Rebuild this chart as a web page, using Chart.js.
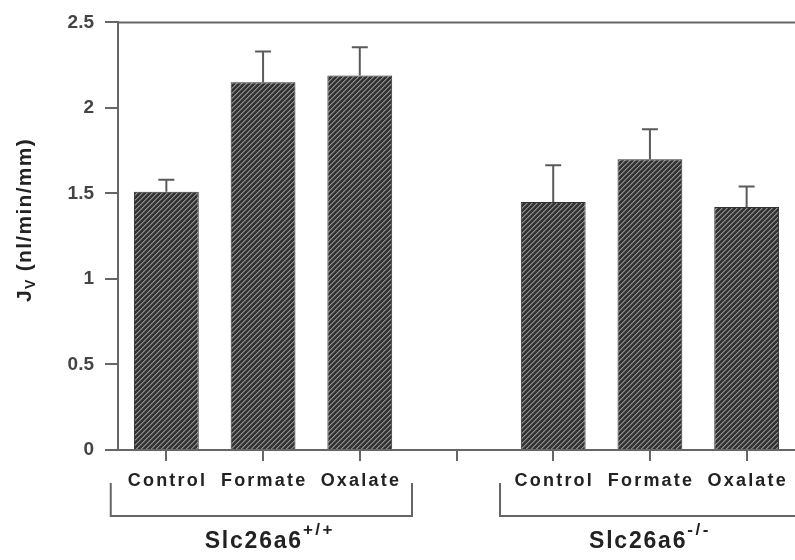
<!DOCTYPE html>
<html>
<head>
<meta charset="utf-8">
<script src="https://cdn.jsdelivr.net/npm/chart.js@4/dist/chart.umd.min.js"></script>
<style>
  html, body { margin: 0; padding: 0; background: #fff; }
  #wrap { width: 795px; height: 560px; }
</style>
</head>
<body>
<div id="wrap"><canvas id="c" width="795" height="560"></canvas></div>
<script>
// ---- data ----
const categories = ['Control', 'Formate', 'Oxalate', '', 'Control', 'Formate', 'Oxalate'];
const jvValues   = [1.51, 2.15, 2.19, null, 1.45, 1.70, 1.42];
const jvErrors   = [0.07, 0.18, 0.165, null, 0.215, 0.175, 0.12];
const yTickStep  = 0.5;
const yMin = 0, yMax = 2.5;
const groupNames = ['Slc26a6', 'Slc26a6'];
const groupSups  = ['+/+', '-/-'];
const yTitleMain = 'J';
const yTitleSub  = 'V';
const yTitleRest = ' (nl/min/mm)';

// ---- hatch pattern ----
function makeHatch() {
  const s = 5;
  const t = document.createElement('canvas');
  t.width = s; t.height = s;
  const c = t.getContext('2d');
  c.fillStyle = '#333333';
  c.fillRect(0, 0, s, s);
  for (let x = 0; x < s; x++) {
    for (let y = 0; y < s; y++) {
      const k = (x + y) % s;
      if (k === s - 1) { c.fillStyle = '#8c8c8c'; c.fillRect(x, y, 1, 1); }
      else if (k === 0) { c.fillStyle = '#666666'; c.fillRect(x, y, 1, 1); }
    }
  }
  return document.getElementById('c').getContext('2d').createPattern(t, 'repeat');
}

const AXIS = '#666';
const FONT = '"Liberation Sans", Arial, sans-serif';

function setLS(ctx, v) { try { ctx.letterSpacing = v; } catch (e) {} }

const decorPlugin = {
  id: 'decor',
  afterDatasetsDraw(chart) {
    const ctx = chart.ctx;
    const ys = chart.scales.y;
    const meta = chart.getDatasetMeta(0);
    ctx.save();
    ctx.strokeStyle = '#5a5a5a';
    ctx.lineWidth = 2;
    jvValues.forEach((v, i) => {
      if (v === null) return;
      const bar = meta.data[i];
      const yTop = ys.getPixelForValue(v + jvErrors[i]);
      ctx.beginPath();
      ctx.moveTo(bar.x, bar.y);
      ctx.lineTo(bar.x, yTop);
      ctx.moveTo(bar.x - 8, yTop);
      ctx.lineTo(bar.x + 8, yTop);
      ctx.stroke();
    });
    ctx.restore();
  },
  afterDraw(chart) {
    const ctx = chart.ctx;
    const xs = chart.scales.x;
    const ys = chart.scales.y;
    const area = chart.chartArea;
    ctx.save();

    // top frame line
    ctx.strokeStyle = AXIS;
    ctx.lineWidth = 2;
    const yt = ys.getPixelForValue(yMax);
    ctx.beginPath();
    ctx.moveTo(area.left, yt);
    ctx.lineTo(chart.width, yt);
    ctx.stroke();

    // x category labels
    ctx.fillStyle = '#222';
    ctx.font = 'bold 18px ' + FONT;
    ctx.textBaseline = 'middle';
    ctx.textAlign = 'left';
    const ls = 2.2;
    setLS(ctx, ls + 'px');
    categories.forEach((lab, i) => {
      if (!lab) return;
      const w = ctx.measureText(lab).width - ls;
      const x = xs.getPixelForValue(i);
      ctx.fillText(lab, x - w / 2, 481);
    });
    setLS(ctx, '0px');

    // brackets
    const top = 483, bot = 516;
    const l1 = xs.getPixelForValue(-0.575), r1 = xs.getPixelForValue(2.54);
    const l2 = xs.getPixelForValue(3.45);
    ctx.strokeStyle = AXIS;
    ctx.lineWidth = 2;
    ctx.beginPath();
    ctx.moveTo(l1, top); ctx.lineTo(l1, bot); ctx.lineTo(r1, bot); ctx.lineTo(r1, top);
    ctx.moveTo(l2, top); ctx.lineTo(l2, bot); ctx.lineTo(chart.width, bot);
    ctx.stroke();

    // group labels with superscripts
    const centers = [xs.getPixelForValue(1.07), xs.getPixelForValue(5.0)];
    const fG = 'bold 23px ' + FONT, fS = 'bold 17px ' + FONT;
    groupNames.forEach((name, g) => {
      ctx.textAlign = 'left';
      ctx.textBaseline = 'alphabetic';
      ctx.font = fG; setLS(ctx, '1.8px');
      const w1 = ctx.measureText(name).width;
      ctx.font = fS; setLS(ctx, '2.5px');
      const w2 = ctx.measureText(groupSups[g]).width;
      const x0 = centers[g] - (w1 + w2) / 2;
      ctx.fillStyle = '#222';
      ctx.font = fG; setLS(ctx, '1.8px');
      ctx.fillText(name, x0, 548);
      ctx.font = fS; setLS(ctx, '2.5px');
      ctx.fillText(groupSups[g], x0 + w1, 535);
    });
    setLS(ctx, '0px');

    // y axis title with subscript (rotated)
    ctx.translate(31, 220);
    ctx.rotate(-Math.PI / 2);
    ctx.textBaseline = 'alphabetic';
    ctx.textAlign = 'left';
    const fMain = 'bold 21px ' + FONT;
    const fSub = 'bold 14px ' + FONT;
    setLS(ctx, '1.3px');
    ctx.font = fMain;
    const a = ctx.measureText(yTitleMain).width;
    const c = ctx.measureText(yTitleRest).width;
    ctx.font = fSub;
    const b = ctx.measureText(yTitleSub).width;
    let x = -(a + b + c) / 2;
    ctx.fillStyle = '#222';
    ctx.font = fMain;
    ctx.fillText(yTitleMain, x, 0); x += a;
    ctx.font = fSub;
    ctx.fillText(yTitleSub, x, 4); x += b;
    ctx.font = fMain;
    ctx.fillText(yTitleRest, x, 0);
    setLS(ctx, '0px');
    ctx.restore();
  }
};

new Chart(document.getElementById('c'), {
  type: 'bar',
  data: {
    labels: categories,
    datasets: [{
      data: jvValues,
      backgroundColor: makeHatch(),
      borderColor: '#333',
      borderWidth: 1,
      barPercentage: 0.67,
      categoryPercentage: 1.0
    }]
  },
  options: {
    responsive: false,
    devicePixelRatio: 1,
    animation: false,
    layout: { padding: { top: 19, right: 0, left: 0, bottom: 0 } },
    plugins: { legend: { display: false }, tooltip: { enabled: false }, title: { display: false } },
    scales: {
      x: {
        offset: true,
        grid: { offset: false, drawOnChartArea: false, drawTicks: true, tickLength: 11, color: AXIS, lineWidth: 2 },
        border: { display: true, color: AXIS, width: 2 },
        ticks: { display: false },
        afterFit: (s) => { s.height = 110; }
      },
      y: {
        min: yMin,
        max: yMax,
        ticks: {
          stepSize: yTickStep,
          padding: 11,
          color: '#444',
          font: { family: FONT, size: 19, weight: 'bold' },
          callback: (v) => String(v)
        },
        grid: { drawOnChartArea: false, drawTicks: true, tickLength: 13, color: AXIS, lineWidth: 2 },
        border: { display: true, color: AXIS, width: 2 },
        afterFit: (s) => { s.width = 118; }
      }
    }
  },
  plugins: [decorPlugin]
});
</script>
</body>
</html>
